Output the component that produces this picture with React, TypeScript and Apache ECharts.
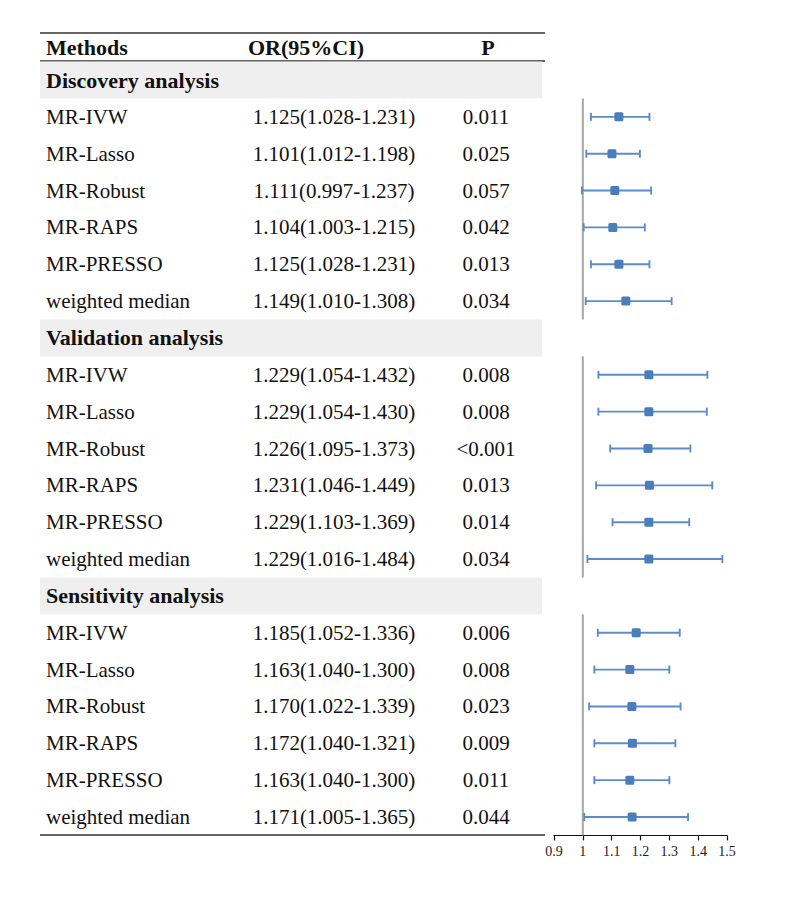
import React, { useEffect, useRef } from 'react';
import * as echarts from 'echarts';

const sections = ['Discovery analysis', 'Validation analysis', 'Sensitivity analysis'];
const methods = ['MR-IVW', 'MR-Lasso', 'MR-Robust', 'MR-RAPS', 'MR-PRESSO', 'weighted median'];
const orEstimate = [
  [1.125, 1.101, 1.111, 1.104, 1.125, 1.149],
  [1.229, 1.229, 1.226, 1.231, 1.229, 1.229],
  [1.185, 1.163, 1.170, 1.172, 1.163, 1.171],
];
const ciLower = [
  [1.028, 1.012, 0.997, 1.003, 1.028, 1.010],
  [1.054, 1.054, 1.095, 1.046, 1.103, 1.016],
  [1.052, 1.040, 1.022, 1.040, 1.040, 1.005],
];
const ciUpper = [
  [1.231, 1.198, 1.237, 1.215, 1.231, 1.308],
  [1.432, 1.430, 1.373, 1.449, 1.369, 1.484],
  [1.336, 1.300, 1.339, 1.321, 1.300, 1.365],
];
const pValues = [
  ['0.011', '0.025', '0.057', '0.042', '0.013', '0.034'],
  ['0.008', '0.008', '<0.001', '0.013', '0.014', '0.034'],
  ['0.006', '0.008', '0.023', '0.009', '0.011', '0.044'],
];
const headers = ['Methods', 'OR(95%CI)', 'P'];
const axisMin = 0.9;
const axisMax = 1.5;
const axisStep = 0.1;
const nullValue = 1;

const FONT = "'Liberation Serif', 'Times New Roman', serif";
const BLUE = '#4a7ebb';

type Row = { kind: 'section' | 'item'; label: string; or?: string; p?: string; est?: number; lo?: number; hi?: number };

function buildRows(): Row[] {
  const rows: Row[] = [];
  sections.forEach((s, si) => {
    rows.push({ kind: 'section', label: s });
    methods.forEach((m, mi) => {
      const est = orEstimate[si][mi];
      const lo = ciLower[si][mi];
      const hi = ciUpper[si][mi];
      rows.push({
        kind: 'item',
        label: m,
        or: `${est.toFixed(3)}(${lo.toFixed(3)}-${hi.toFixed(3)})`,
        p: pValues[si][mi],
        est,
        lo,
        hi,
      });
    });
  });
  return rows;
}

function textEl(text: string, x: number, y: number, font: string, align: string) {
  return {
    type: 'text',
    style: {
      text,
      x,
      y,
      font,
      fill: '#111',
      textAlign: align,
      textVerticalAlign: 'middle',
    },
  };
}

export default function App() {
  const ref = useRef<HTMLDivElement>(null);
  useEffect(() => {
    if (!ref.current) return;
    const chart = echarts.init(ref.current, undefined, { renderer: 'svg' });
    const rows = buildRows();
    const rowIds = rows.map((_, i) => String(i));
    const sectionStarts = rows.map((r, i) => (r.kind === 'section' ? i : -1)).filter((i) => i >= 0);

    const top = 61.6;
    const height = 773.8;

    const tableData = rows.map((_, i) => [0, i]);
    const bandData = rows.map((r) => (r.kind === 'section' ? 502 : null));
    const forestData = rows
      .map((r, i) => (r.kind === 'item' ? [r.lo, r.hi, r.est, i] : null))
      .filter((d) => d !== null);
    const refData = sectionStarts.map((s, k) => {
      const end = k + 1 < sectionStarts.length ? sectionStarts[k + 1] - 1 : rows.length - 1;
      return [nullValue, s, end];
    });

    const option: any = {
      animation: false,
      grid: [
        { left: 40, width: 505, top, height },
        { left: 554, width: 173, top, height },
      ],
      xAxis: [
        { gridIndex: 0, type: 'value', min: 0, max: 505, show: false },
        {
          gridIndex: 1,
          type: 'value',
          min: axisMin,
          max: axisMax,
          interval: axisStep,
          splitLine: { show: false },
          axisLine: { show: true, lineStyle: { color: '#111', width: 1.2 } },
          axisTick: { show: true, length: 5, lineStyle: { color: '#111', width: 1.2 } },
          axisLabel: {
            fontFamily: FONT,
            fontSize: 14,
            color: '#222',
            margin: 9,
            formatter: (v: number) => String(Math.round(v * 10) / 10),
          },
        },
      ],
      yAxis: [
        { gridIndex: 0, type: 'category', data: rowIds, inverse: true, show: false },
        { gridIndex: 1, type: 'category', data: rowIds, inverse: true, show: false },
      ],
      series: [
        {
          type: 'bar',
          xAxisIndex: 0,
          yAxisIndex: 0,
          data: bandData,
          barWidth: '100%',
          silent: true,
          z: 1,
          itemStyle: { color: '#efefef' },
        },
        {
          type: 'custom',
          xAxisIndex: 0,
          yAxisIndex: 0,
          data: tableData,
          encode: { x: 0, y: 1 },
          silent: true,
          z: 5,
          renderItem: (params: any, api: any) => {
            const idx = api.value(1);
            const r = rows[idx];
            const origin = api.coord([0, idx]);
            const y = origin[1];
            const x0 = origin[0];
            if (r.kind === 'section') {
              return {
                type: 'group',
                children: [textEl(r.label, x0 + 6, y, `bold 22px ${FONT}`, 'left')],
              };
            }
            return {
              type: 'group',
              children: [
                textEl(r.label, x0 + 6, y, `21px ${FONT}`, 'left'),
                textEl(r.or as string, x0 + 294, y, `21px ${FONT}`, 'center'),
                textEl(r.p as string, x0 + 446, y, `21px ${FONT}`, 'center'),
              ],
            };
          },
        },
        {
          type: 'custom',
          xAxisIndex: 1,
          yAxisIndex: 1,
          data: refData,
          encode: { x: 0, y: [1, 2] },
          silent: true,
          renderItem: (params: any, api: any) => {
            const band = api.size([0, 1])[1];
            const a = api.coord([api.value(0), api.value(1)]);
            const b = api.coord([api.value(0), api.value(2)]);
            return {
              type: 'line',
              shape: { x1: a[0], y1: a[1] + band / 2, x2: b[0], y2: b[1] + band / 2 },
              style: { stroke: '#a6a6a6', lineWidth: 2 },
            };
          },
        },
        {
          type: 'custom',
          xAxisIndex: 1,
          yAxisIndex: 1,
          data: forestData,
          encode: { x: [0, 1, 2], y: 3 },
          silent: true,
          renderItem: (params: any, api: any) => {
            const row = api.value(3);
            const lo = api.coord([api.value(0), row]);
            const hi = api.coord([api.value(1), row]);
            const est = api.coord([api.value(2), row]);
            const cap = 4;
            const lineStyle = { stroke: '#5b8ccc', lineWidth: 1.9 };
            return {
              type: 'group',
              children: [
                { type: 'line', shape: { x1: lo[0], y1: lo[1], x2: hi[0], y2: hi[1] }, style: lineStyle },
                { type: 'line', shape: { x1: lo[0], y1: lo[1] - cap, x2: lo[0], y2: lo[1] + cap }, style: lineStyle },
                { type: 'line', shape: { x1: hi[0], y1: hi[1] - cap, x2: hi[0], y2: hi[1] + cap }, style: lineStyle },
                {
                  type: 'rect',
                  shape: { x: est[0] - 4.5, y: est[1] - 4.5, width: 9, height: 9, r: 1.5 },
                  style: { fill: BLUE },
                },
              ],
            };
          },
        },
      ],
      graphic: [
        { type: 'line', shape: { x1: 40, y1: 33, x2: 545, y2: 33 }, style: { stroke: '#333', lineWidth: 1.5 }, silent: true },
        { type: 'line', shape: { x1: 40, y1: 61, x2: 545, y2: 61 }, style: { stroke: '#333', lineWidth: 1.5 }, silent: true },
        { type: 'line', shape: { x1: 40, y1: 835, x2: 545, y2: 835 }, style: { stroke: '#333', lineWidth: 1.5 }, silent: true },
        {
          type: 'text',
          x: 46,
          y: 47,
          silent: true,
          style: { text: headers[0], font: `bold 22px ${FONT}`, fill: '#111', textAlign: 'left', textVerticalAlign: 'middle' },
        },
        {
          type: 'text',
          x: 306,
          y: 47,
          silent: true,
          style: { text: headers[1], font: `bold 22px ${FONT}`, fill: '#111', textAlign: 'center', textVerticalAlign: 'middle' },
        },
        {
          type: 'text',
          x: 488,
          y: 47,
          silent: true,
          style: { text: headers[2], font: `bold 22px ${FONT}`, fill: '#111', textAlign: 'center', textVerticalAlign: 'middle' },
        },
      ],
    };
    chart.setOption(option);
    return () => chart.dispose();
  }, []);
  return <div ref={ref} style={{ position: 'absolute', left: 0, top: 0, width: 788, height: 900, background: '#fff' }} />;
}
